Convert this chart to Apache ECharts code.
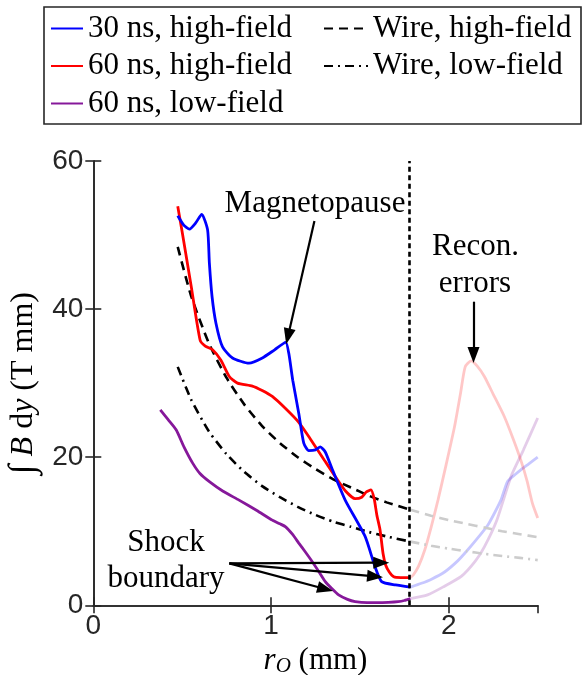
<!DOCTYPE html>
<html>
<head>
<meta charset="utf-8">
<script src="https://cdn.jsdelivr.net/npm/echarts/dist/echarts.min.js"></script>
<style>
  html, body { margin: 0; padding: 0; background: #fff; }
  #main { width: 584px; height: 675px; }
</style>
</head>
<body>
<div id="main"></div>
<script>
// values, [r_O (mm), integral B dy (T mm)]
var blue30High = [[0.475,52.6],[0.51,51.3],[0.541,50.8],[0.575,51.6],[0.61,52.8],[0.643,50.7],[0.653,46.2],[0.668,41.7],[0.69,38.1],[0.727,34.9],[0.783,33.4],[0.876,32.7],[0.951,33.4],[1.02,34.5],[1.082,35.5],[1.1,34.0],[1.122,30.4],[1.156,25.9],[1.184,21.9],[1.212,20.9],[1.25,21.0],[1.277,21.4],[1.305,20.7],[1.342,18.5],[1.417,14.2],[1.529,9.3],[1.585,5.2],[1.622,3.2],[1.7,2.75],[1.784,2.45]];
var red60High = [[0.475,53.9],[0.5,50.4],[0.55,43.2],[0.601,35.8],[0.63,35.0],[0.671,34.5],[0.718,33.1],[0.765,30.9],[0.811,30.0],[0.895,29.6],[0.95,29.0],[1.007,28.2],[1.08,26.6],[1.156,24.7],[1.22,22.5],[1.3,19.6],[1.361,17.4],[1.42,15.4],[1.473,14.4],[1.51,14.6],[1.535,15.3],[1.562,15.6],[1.58,14.4],[1.595,12.2],[1.613,10.2],[1.63,7.0],[1.645,5.4],[1.665,4.5],[1.69,3.85],[1.73,3.75],[1.784,3.75]];
var purple60Low = [[0.377,26.4],[0.42,25.1],[0.466,23.7],[0.51,21.4],[0.559,19.2],[0.6,17.8],[0.653,16.7],[0.73,15.4],[0.82,14.2],[0.92,12.8],[1.007,11.5],[1.05,11.0],[1.082,10.6],[1.12,9.6],[1.156,8.4],[1.19,7.3],[1.23,5.95],[1.27,4.5],[1.305,3.2],[1.34,2.3],[1.38,1.4],[1.43,0.8],[1.473,0.5],[1.54,0.35],[1.603,0.35],[1.66,0.4],[1.715,0.5],[1.75,0.65],[1.784,0.9]];

// past the dotted line (reconstruction errors), drawn faded
var blue30Err = [[1.784,2.45],[1.846,2.97],[1.9,3.5],[1.976,4.5],[2.05,6.0],[2.107,7.5],[2.17,9.3],[2.219,10.8],[2.26,12.6],[2.293,14.2],[2.33,16.7],[2.37,17.6],[2.405,18.3],[2.45,19.1],[2.5,20.0]];
var red60Err = [[1.784,3.75],[1.8,4.1],[1.83,5.3],[1.865,7.5],[1.9,10.5],[1.939,14.2],[1.985,19.0],[2.032,24.1],[2.065,28.5],[2.092,32.2],[2.125,33.0],[2.16,32.3],[2.2,30.9],[2.25,28.5],[2.312,25.5],[2.36,22.6],[2.405,19.6],[2.44,16.8],[2.47,13.8],[2.5,11.8]];
var purple60Err = [[1.784,0.9],[1.88,1.4],[1.97,2.5],[2.07,3.9],[2.15,6.0],[2.2,7.9],[2.27,11.5],[2.35,17.4],[2.42,21.0],[2.5,25.3]];

// wire model curves
var wireX = [0.475,0.55,0.65,0.75,0.85,0.95,1.05,1.15,1.25,1.35,1.45,1.55,1.65,1.784];
var wireHigh = [48.4,41.8,35.4,30.7,27.1,24.2,21.9,20.0,18.4,17.0,15.9,14.8,13.9,12.9];
var wireLow = [32.2,27.8,23.5,20.4,18.0,16.1,14.6,13.3,12.2,11.3,10.6,9.9,9.3,8.6];
var wireXErr = [1.784,1.9,2.0,2.1,2.2,2.3,2.4,2.5];
var wireHighErr = [12.9,12.1,11.5,11.0,10.5,10.0,9.6,9.2];
var wireLowErr = [8.6,8.05,7.65,7.3,6.95,6.65,6.4,6.1];

var xTicks = [0, 1, 2];
var yTicks = [0, 20, 40, 60];
var cutoff = 1.784;

function zip(xs, ys) {
  return xs.map(function (x, i) { return [x, ys[i]]; });
}

var serif = 'Liberation Serif';
var sans = 'Liberation Sans';
var axisColor = '#262626';

var chart = echarts.init(document.getElementById('main'));

function lineSeries(name, data, color, type, width, opacity) {
  return {
    name: name,
    type: 'line',
    data: data,
    symbol: 'none',
    smooth: 0.2,
    lineStyle: { color: color, width: width || 2.8, type: type || 'solid', opacity: opacity == null ? 1 : opacity },
    itemStyle: { color: color },
    z: 3
  };
}

var arrowLine = {
  name: 'arrows',
  type: 'line',
  data: [],
  symbol: 'none',
  z: 5,
  markLine: {
    silent: true,
    symbol: ['none', 'triangle'],
    symbolSize: [12, 16],
    label: { show: false },
    lineStyle: { color: '#000', width: 2.2, type: 'solid' },
    data: [
      [{ coord: [1.244, 51.9] }, { coord: [1.095, 36.3] }],
      [{ coord: [2.139, 41.0] }, { coord: [2.139, 33.8] }],
      [{ coord: [0.765, 5.67] }, { coord: [1.62, 5.75] }],
      [{ coord: [0.765, 5.67] }, { coord: [1.585, 3.9] }],
      [{ coord: [0.765, 5.67] }, { coord: [1.305, 2.2] }]
    ]
  }
};

var cutLine = {
  name: 'cut',
  type: 'line',
  data: [],
  symbol: 'none',
  z: 4,
  markLine: {
    silent: true,
    symbol: ['none', 'none'],
    label: { show: false },
    lineStyle: { color: '#000', width: 2.6, type: [5, 3.5] },
    data: [{ xAxis: cutoff }]
  }
};

var series = [
  lineSeries('blue err', blue30Err, '#0000ff', 'solid', 2.8, 0.22),
  lineSeries('purple err', purple60Err, '#86189a', 'solid', 2.8, 0.22),
  lineSeries('red err', red60Err, '#ff0000', 'solid', 2.8, 0.22),
  lineSeries('wire high err', zip(wireXErr, wireHighErr), '#cccccc', [9, 6], 2.6),
  lineSeries('wire low err', zip(wireXErr, wireLowErr), '#cccccc', [9, 5, 2, 5], 2.6),
  lineSeries('Wire, high-field', zip(wireX, wireHigh), '#000000', [9, 6], 2.6),
  lineSeries('Wire, low-field', zip(wireX, wireLow), '#000000', [9, 5, 2, 5], 2.6),
  lineSeries('60 ns, low-field', purple60Low, '#86189a'),
  lineSeries('60 ns, high-field', red60High, '#ff0000'),
  lineSeries('30 ns, high-field', blue30High, '#0000ff'),
  cutLine,
  arrowLine
];

var legendText = { fontFamily: serif, fontSize: 31, color: '#000', lineHeight: 31 };

var option = {
  animation: false,
  backgroundColor: '#fff',
  grid: { left: 93.3, right: 46.3, top: 161, bottom: 69.7, containLabel: false, outerBoundsMode: 'none' },
  legend: [
    {
      data: ['30 ns, high-field', '60 ns, high-field', '60 ns, low-field'],
      orient: 'vertical', left: 50, top: 13, padding: 0,
      itemGap: 6.5, itemWidth: 32, itemHeight: 14,
      itemStyle: { opacity: 0 },
      selectedMode: false, textStyle: legendText
    },
    {
      data: ['Wire, high-field', 'Wire, low-field'],
      orient: 'vertical', left: 323, top: 13, padding: 0,
      itemGap: 6.5, itemWidth: 44, itemHeight: 14,
      itemStyle: { opacity: 0 },
      selectedMode: false, textStyle: legendText
    }
  ],
  xAxis: [
    {
      type: 'value', min: 0, max: 2.5, interval: 1,
      name: '{i|r}{sub|O} (mm)', nameLocation: 'middle', nameGap: 18,
      nameTextStyle: {
        fontFamily: serif, fontSize: 31, color: '#000',
        rich: {
          i: { fontFamily: serif, fontSize: 31, fontStyle: 'italic', color: '#000' },
          sub: { fontFamily: serif, fontSize: 21, fontStyle: 'italic', color: '#000', padding: [12, 0, 0, 0] }
        }
      },
      axisLine: { lineStyle: { color: axisColor, width: 1.6 } },
      axisTick: { inside: true, length: 8, lineStyle: { color: axisColor, width: 1.6 } },
      axisLabel: {
        fontFamily: sans, fontSize: 28, color: '#262626', margin: 7, showMaxLabel: false,
        formatter: function (v) { return xTicks.indexOf(v) >= 0 ? String(v) : ''; }
      },
      splitLine: { show: false }
    },
    {
      type: 'value', min: 0, max: 2.5, interval: 1, position: 'top',
      axisLine: { lineStyle: { color: axisColor, width: 1.6 } },
      axisTick: { inside: true, length: 8, lineStyle: { color: axisColor, width: 1.6 } },
      axisLabel: { show: false },
      splitLine: { show: false }
    }
  ],
  yAxis: [
    {
      type: 'value', min: 0, max: 60, interval: 20,
      name: '{int|\u222B} {i|B} d{i|y} (T mm)', nameLocation: 'middle', nameGap: 48, nameRotate: 90,
      nameTextStyle: {
        fontFamily: serif, fontSize: 32, color: '#000',
        rich: {
          int: { fontFamily: serif, fontSize: 36, color: '#000' },
          i: { fontFamily: serif, fontSize: 32, fontStyle: 'italic', color: '#000' }
        }
      },
      axisLine: { show: true, lineStyle: { color: axisColor, width: 1.6 } },
      axisTick: { show: true, inside: true, length: 8, lineStyle: { color: axisColor, width: 1.6 } },
      axisLabel: {
        fontFamily: sans, fontSize: 28, color: '#262626', margin: 10,
        formatter: function (v) { return yTicks.indexOf(v) >= 0 ? String(v) : ''; }
      },
      splitLine: { show: false }
    },
    {
      type: 'value', min: 0, max: 60, interval: 20, position: 'right',
      axisLine: { show: true, lineStyle: { color: axisColor, width: 1.6 } },
      axisTick: { show: true, inside: true, length: 8, lineStyle: { color: axisColor, width: 1.6 } },
      axisLabel: { show: false },
      splitLine: { show: false }
    }
  ],
  graphic: [
    // legend frame
    { type: 'rect', shape: { x: 44, y: 7, width: 537, height: 117 }, style: { fill: 'none', stroke: axisColor, lineWidth: 1.6 }, z: 10 },
    { type: 'text', x: 315, y: 203.5, style: { text: 'Magnetopause', font: '31px "Liberation Serif"', align: 'center', verticalAlign: 'middle', fill: '#000' } },
    { type: 'text', x: 475.5, y: 247, style: { text: 'Recon.', font: '31px "Liberation Serif"', align: 'center', verticalAlign: 'middle', fill: '#000' } },
    { type: 'text', x: 475, y: 284, style: { text: 'errors', font: '31px "Liberation Serif"', align: 'center', verticalAlign: 'middle', fill: '#000' } },
    { type: 'text', x: 166, y: 543, style: { text: 'Shock', font: '31px "Liberation Serif"', align: 'center', verticalAlign: 'middle', fill: '#000' } },
    { type: 'text', x: 166, y: 579, style: { text: 'boundary', font: '31px "Liberation Serif"', align: 'center', verticalAlign: 'middle', fill: '#000' } }
  ],
  series: series
};

chart.setOption(option);
</script>
</body>
</html>
